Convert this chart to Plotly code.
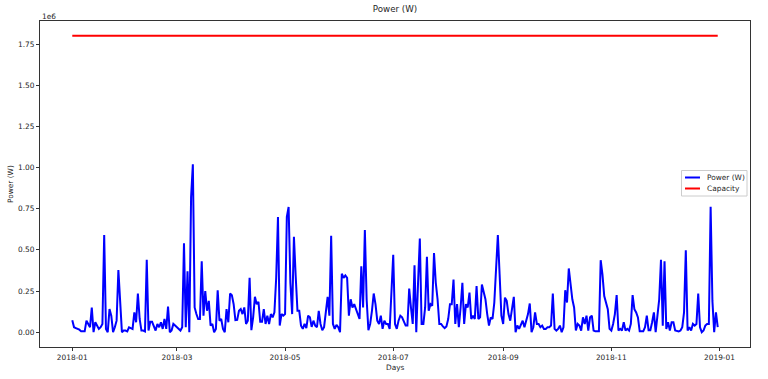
import pandas as pd
import plotly.graph_objects as go

# ---- data (values in units of 1e6 W) ----
start_date = "2018-01-01"
n_days = 365
power_mw = [
    0.073, 0.03, 0.025, 0.02, 0.015, 0.005, 0.005, 0.005, 0.07, 0.05,
    0.03, 0.15, 0.0, 0.06, 0.04, 0.02, 0.03, 0.05, 0.59, 0.02,
    0.0, 0.14, 0.1, 0.0, 0.03, 0.07, 0.377, 0.14, 0.0, 0.01,
    0.01, 0.005, 0.03, 0.025, 0.02, 0.12, 0.06, 0.235, 0.08, 0.01,
    0.01, 0.005, 0.44, 0.01, 0.063, 0.063, 0.03, 0.01, 0.05, 0.03,
    0.06, 0.02, 0.08, 0.02, 0.155, 0.0, 0.01, 0.05, 0.04, 0.03,
    0.02, 0.01, 0.03, 0.54, 0.03, 0.37, 0.0, 0.82, 1.02, 0.15,
    0.11, 0.08, 0.08, 0.43, 0.1, 0.25, 0.13, 0.19, 0.04, 0.05,
    0.0, 0.02, 0.255, 0.07, 0.08, 0.02, 0.0, 0.14, 0.06, 0.235,
    0.225, 0.17, 0.073, 0.075, 0.13, 0.14, 0.11, 0.15, 0.05, 0.07,
    0.33, 0.012, 0.09, 0.215, 0.17, 0.185, 0.063, 0.063, 0.14, 0.05,
    0.1, 0.05, 0.11, 0.09, 0.12, 0.33, 0.70, 0.04, 0.11, 0.1,
    0.11, 0.70, 0.76, 0.3, 0.11, 0.58, 0.34, 0.13, 0.13, 0.04,
    0.02, 0.05, 0.025, 0.1, 0.09, 0.032, 0.07, 0.04, 0.03, 0.13,
    0.05, 0.012, 0.03, 0.11, 0.215, 0.1, 0.585, 0.05, 0.02, 0.045,
    0.03, 0.0, 0.355, 0.33, 0.345, 0.33, 0.1, 0.2, 0.15, 0.17,
    0.14, 0.11, 0.08, 0.40, 0.15, 0.62, 0.2, 0.012, 0.05, 0.13,
    0.235, 0.17, 0.07, 0.05, 0.1, 0.02, 0.07, 0.05, 0.05, 0.02,
    0.26, 0.47, 0.05, 0.02, 0.07, 0.10, 0.09, 0.06, 0.04, 0.04,
    0.265, 0.15, 0.05, 0.407, 0.0, 0.30, 0.569, 0.05, 0.05, 0.15,
    0.458, 0.13, 0.17, 0.16, 0.48, 0.30, 0.2, 0.05, 0.05, 0.035,
    0.025, 0.035, 0.08, 0.17, 0.17, 0.32, 0.05, 0.17, 0.03, 0.15,
    0.30, 0.05, 0.17, 0.15, 0.24, 0.08, 0.1, 0.08, 0.28, 0.08,
    0.09, 0.29, 0.24, 0.2, 0.11, 0.04, 0.09, 0.08, 0.18, 0.35,
    0.59, 0.35, 0.1, 0.05, 0.21, 0.19, 0.11, 0.07, 0.14, 0.215,
    0.0, 0.04, 0.02, 0.05, 0.07, 0.03, 0.07, 0.11, 0.174, 0.0,
    0.03, 0.12, 0.05, 0.05, 0.03, 0.04, 0.02, 0.02, 0.03, 0.03,
    0.04, 0.235, 0.02, 0.01, 0.02, 0.04, 0.0, 0.03, 0.255, 0.18,
    0.387, 0.28, 0.2, 0.15, 0.01, 0.05, 0.04, 0.01, 0.09, 0.05,
    0.1, 0.01, 0.09, 0.1, 0.01, 0.005, 0.005, 0.005, 0.437, 0.35,
    0.22, 0.18, 0.14, 0.02, 0.01, 0.05, 0.11, 0.225, 0.01, 0.02,
    0.01, 0.06, 0.01, 0.02, 0.01, 0.05, 0.225, 0.14, 0.12, 0.09,
    0.005, 0.005, 0.005, 0.03, 0.1, 0.012, 0.012, 0.06, 0.12, 0.0,
    0.09, 0.2, 0.44, 0.04, 0.43, 0.02, 0.06, 0.01, 0.06, 0.06,
    0.01, 0.005, 0.005, 0.01, 0.03, 0.12, 0.498, 0.01, 0.03, 0.01,
    0.05, 0.04, 0.05, 0.235, 0.03, 0.0, 0.01, 0.04, 0.05, 0.05,
    0.761, 0.19, 0.0, 0.12, 0.03,
]
capacity_w = 1.8e6
scale = 1e6
series_names = ["Power (W)", "Capacity"]
series_colors = ["#0000ff", "#ff0000"]

x_tick_vals = ["2018-01-01", "2018-03-01", "2018-05-01", "2018-07-01",
               "2018-09-01", "2018-11-01", "2019-01-01"]
x_tick_text = ["2018-01", "2018-03", "2018-05", "2018-07",
               "2018-09", "2018-11", "2019-01"]
y_tick_vals = [0.0, 0.25, 0.5, 0.75, 1.0, 1.25, 1.5, 1.75]
y_tick_text = ["0.00", "0.25", "0.50", "0.75", "1.00", "1.25", "1.50", "1.75"]

# ---- build ----
W, H = 768, 379
ML, MR, MT, MB = 40, 18, 21, 32
PW, PH = W - ML - MR, H - MT - MB

dates = pd.date_range(start_date, periods=n_days, freq="D")
power_w = [v * scale for v in power_mw]
capacity = [capacity_w] * n_days

span = dates[-1] - dates[0]
x0 = dates[0] - span * 0.05
x1 = dates[-1] + span * 0.05
ymin, ymax = min(min(power_w), capacity_w), max(max(power_w), capacity_w)
yr = ymax - ymin
y0, y1 = ymin - 0.05 * yr, ymax + 0.05 * yr

FONT = "DejaVu Sans"
TXT = "#262626"
AX = "#333333"

fig = go.Figure()
fig.add_trace(go.Scatter(x=dates, y=power_w, mode="lines", name=series_names[0],
                         line=dict(color=series_colors[0], width=2), showlegend=False))
fig.add_trace(go.Scatter(x=dates, y=capacity, mode="lines", name=series_names[1],
                         line=dict(color=series_colors[1], width=2), showlegend=False))

def px_x(px):
    return (px - ML) / PW

def px_y(py):
    return 1 - (py - MT) / PH

fig.update_layout(
    width=W, height=H,
    margin=dict(l=ML, r=MR, t=MT, b=MB, autoexpand=False),
    paper_bgcolor="white", plot_bgcolor="white",
    font=dict(family=FONT, size=7.2, color=TXT),
    title=dict(text="Power (W)", x=0.5, xref="paper", xanchor="center",
               y=1 - 9 / H, yanchor="middle",
               font=dict(family=FONT, size=8.7, color=TXT)),
    showlegend=False,
)
common = dict(showgrid=False, zeroline=False, showline=True, linecolor=AX,
              linewidth=1, mirror=True, ticks="outside", ticklen=3,
              tickwidth=1, tickcolor=AX, automargin=False,
              tickfont=dict(family=FONT, size=7.4, color=TXT))
fig.update_xaxes(range=[x0, x1], type="date", tickmode="array",
                 tickvals=x_tick_vals, ticktext=x_tick_text, **common)
fig.update_yaxes(range=[y0, y1], tickmode="array",
                 tickvals=[v * scale for v in y_tick_vals], ticktext=y_tick_text,
                 **common)

# axis titles and offset text
fig.add_annotation(text="Days", xref="paper", yref="paper", x=0.5, y=px_y(367),
                   xanchor="center", yanchor="middle", showarrow=False,
                   font=dict(family=FONT, size=7.4, color=TXT))
fig.add_annotation(text="Power (W)", xref="paper", yref="paper", x=px_x(10),
                   y=0.5, xanchor="center", yanchor="middle", textangle=-90,
                   showarrow=False, font=dict(family=FONT, size=7.4, color=TXT))
fig.add_annotation(text="1e6", xref="paper", yref="paper", x=0, y=px_y(16),
                   xanchor="left", yanchor="middle", showarrow=False,
                   font=dict(family=FONT, size=7.4, color=TXT))

# legend box drawn like matplotlib's
lx0, lx1, ly0, ly1 = 681.5, 747, 170.5, 196
fig.add_shape(type="rect", xref="paper", yref="paper",
              x0=px_x(lx0), x1=px_x(lx1), y0=px_y(ly1), y1=px_y(ly0),
              line=dict(color="#cccccc", width=1), fillcolor="rgba(255,255,255,0.8)",
              layer="above")
for i, (name, col) in enumerate(zip(series_names, series_colors)):
    yy = 177.5 + i * 11
    fig.add_shape(type="line", xref="paper", yref="paper",
                  x0=px_x(685), x1=px_x(700), y0=px_y(yy), y1=px_y(yy),
                  line=dict(color=col, width=2), layer="above")
    fig.add_annotation(text=name, xref="paper", yref="paper", x=px_x(705),
                       y=px_y(yy), xanchor="left", yanchor="middle",
                       showarrow=False, font=dict(family=FONT, size=7.4, color=TXT))

fig.write_html("out.html")
